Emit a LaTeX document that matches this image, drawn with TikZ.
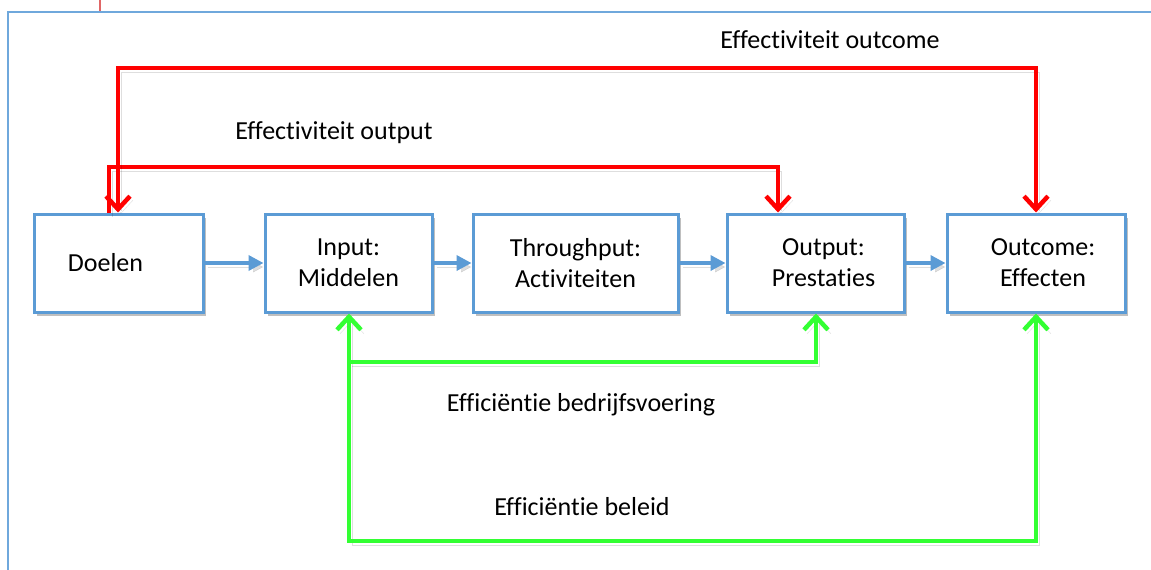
\documentclass[tikz,border=0pt]{standalone}
\usepackage{fontspec}
\setmainfont{Carlito}[RawFeature={-liga;-clig;-dlig}]
\usetikzlibrary{arrows.meta,shadows}
\definecolor{boxblue}{HTML}{5B9BD5}
\definecolor{framblue}{HTML}{6FA8DC}
\definecolor{redline}{HTML}{FF0000}
\definecolor{greenline}{HTML}{33FF33}
\definecolor{tickred}{HTML}{E06666}
\tikzset{
  box/.style={draw=boxblue, line width=3pt, fill=white, minimum height=98pt,
    align=center, font=\fontsize{26}{31}\selectfont, inner sep=0pt,
    drop shadow={shadow xshift=3pt, shadow yshift=-4pt, opacity=0.25, fill=black}},
  lineshadow/.style={preaction={draw=black, opacity=0.13, transform canvas={shift={(3pt,-4pt)}}}},
  flow/.style={draw=boxblue, line width=3.5pt, -{Triangle[length=15pt,width=15pt]}, lineshadow},
  redarr/.style={draw=redline, line width=4.5pt, lineshadow},
  grnarr/.style={draw=greenline, line width=4.5pt, lineshadow},
  barb/.tip={Straight Barb[length=13pt,width=24pt,line width=4.5pt]},
  lbl/.style={font=\fontsize{26}{31}\selectfont, inner sep=0pt},
  frame/.style={draw=framblue, line width=2.5pt}
}
\begin{document}
\begin{tikzpicture}[x=1pt,y=-1pt]
\useasboundingbox (0,0) rectangle (1151,570);
\fill[white] (0,0) rectangle (1151,570);
% outer frame
\draw[frame] (8,572) -- (8,12) -- (1153,12);
\draw[draw=tickred, line width=1.2pt] (100,0) -- (100,11);
% boxes
\node[box, minimum width=169pt] (doelen) at (118.5,263) {Doelen\hspace*{26pt}};
\node[box, minimum width=167pt] (input) at (348.5,263) {Input:\\Middelen};
\node[box, minimum width=205pt] (through) at (575.5,263) {Throughput:\\Activiteiten};
\node[box, minimum width=177pt] (output) at (815.5,263) {\hspace*{16pt}Output:\\\hspace*{16pt}Prestaties};
\node[box, minimum width=178pt] (outcome) at (1036,263) {\hspace*{14pt}Outcome:\\\hspace*{14pt}Effecten};
% flow arrows
\draw[flow] (doelen) -- (input);
\draw[flow] (input) -- (through);
\draw[flow] (through) -- (output);
\draw[flow] (output) -- (outcome);
% red connectors
\coordinate (rs) at (109,214);
\coordinate (ro) at (118,214);
\draw[redarr, -{barb}] (doelen.north -| rs) -- (109,167) -| (output.north -| 778,0);
\draw[redarr, {barb}-{barb}] (doelen.north -| ro) -- (118,68) -| (outcome.north);
% green connectors
\coordinate (gj) at (349,362);
\draw[grnarr, {barb}-{barb}] (input.south -| gj) -- (349,541) -| (outcome.south);
\draw[grnarr, -{barb}] (gj) -| (output.south -| 816,0);
% labels
\node[lbl] (l1) at (830,40) {Effectiviteit outcome};
\node[lbl] (l2) at (334,133) {Effectiviteit output};
\node[lbl] (l3) at (581,405) {Efficiëntie bedrijfsvoering};
\node[lbl] (l4) at (582,507) {Efficiëntie beleid};
\end{tikzpicture}
\end{document}
